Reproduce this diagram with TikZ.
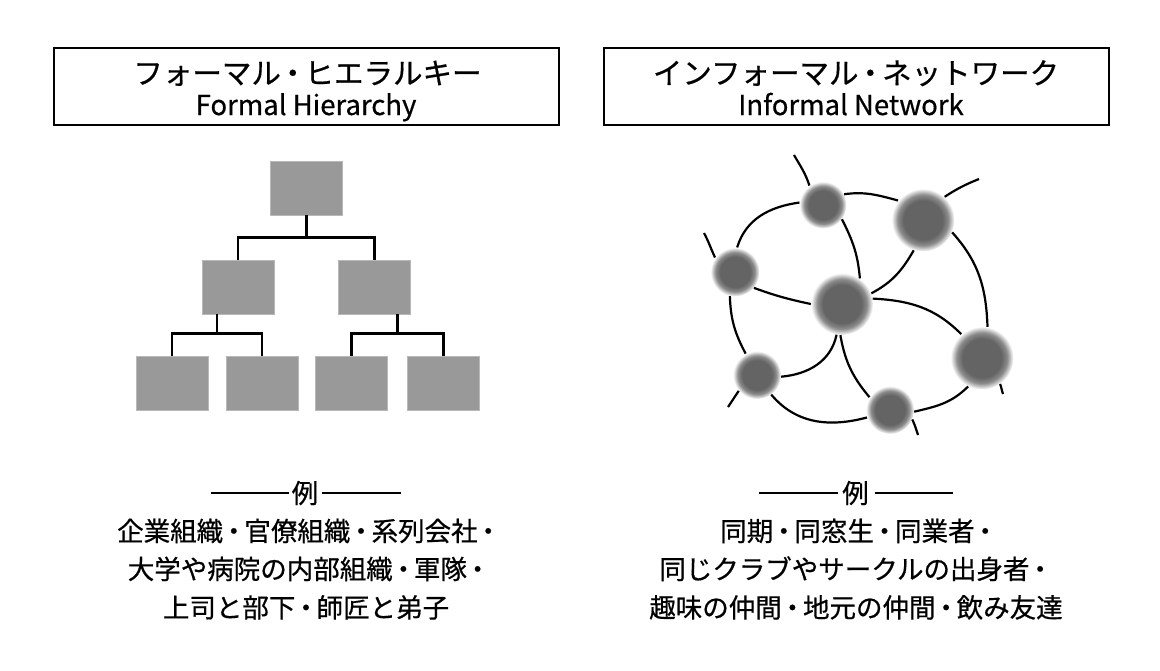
\documentclass[tikz,border=0pt]{standalone}
\usepackage{fontspec}
\setmainfont{Noto Sans CJK JP}[FakeBold=0.6]
\usetikzlibrary{calc}
\definecolor{boxgray}{HTML}{999999}
\definecolor{blobc}{HTML}{646464}
\pgfdeclareradialshading{blob}{\pgfpoint{0bp}{0bp}}{color(0bp)=(blobc); color(15.5bp)=(blobc); color(20bp)=(blobc!75!white); color(25bp)=(white); color(50bp)=(white)}
\newcommand\dt{\makebox[0.8em][c]{・}}
\begin{document}
\begin{tikzpicture}[x=1pt,y=1pt,
  hbox/.style={fill=boxgray, draw=boxgray!70!white, line width=0.6, minimum width=72, minimum height=54, inner sep=0pt},
  conn/.style={line width=2.5},
  tbox/.style={draw=black, line width=2, minimum width=505, minimum height=77, inner sep=0pt},
  jtitle/.style={inner sep=0pt, font=\fontsize{29.5}{34}\selectfont},
  etitle/.style={inner sep=0pt, font=\fontsize{27.5}{32}\selectfont},
  body/.style={inner sep=0pt, font=\fontsize{26.5}{32}\selectfont},
  exdash/.style={line width=2},
  blobnode/.style={circle, inner sep=0pt, minimum size=#1, shade, shading=blob},
  link/.style={line width=2.2}]
\useasboundingbox (0,0) rectangle (1160,-670);

% ---------- headers ----------
\node[tbox] (L) at (306.5,-86.5) {};
\node[jtitle, anchor=base] (Ljp) at (307.5,-84) {フォーマル\dt ヒエラルキー};
\node[etitle, anchor=base] (Len) at (306,-115) {Formal Hierarchy};
\node[tbox] (R) at (856,-86.5) {};
\node[jtitle, anchor=base] (Rjp) at (856,-84) {インフォーマル\dt ネットワーク};
\node[etitle, anchor=base] (Ren) at (851,-115) {Informal Network};

% ---------- hierarchy ----------
\node[hbox] (T) at (306.5,-188) {};
\node[hbox] (ML) at (238,-287) {};
\node[hbox] (MR) at (374.5,-287) {};
\node[hbox] (B1) at (172,-383) {};
\node[hbox] (B2) at (262,-383) {};
\node[hbox] (B3) at (351.5,-383) {};
\node[hbox] (B4) at (443.5,-383) {};
\coordinate (jT) at ($(T.south)+(0,-22)$);
\draw[conn] (T.south) -- (jT) -| (ML.north);
\draw[conn] (jT) -| (MR.north);
\coordinate (jL) at ($(B1.north)!0.5!(B2.north)+(0,22)$);
\draw[conn] (jL |- ML.south) -- (jL) -| (B1.north);
\draw[conn] (jL) -| (B2.north);
\coordinate (jR) at ($(B3.north)!0.5!(B4.north)+(0,22)$);
\draw[conn] (jR |- MR.south) -- (jR) -| (B3.north);
\draw[conn] (jR) -| (B4.north);

% ---------- network ----------
\node[blobnode=47] (A) at (823,-205) {};
\node[blobnode=63] (B) at (923,-220) {};
\node[blobnode=49] (C) at (735,-272) {};
\node[blobnode=62] (D) at (842,-304) {};
\node[blobnode=63] (E) at (982,-358) {};
\node[blobnode=48] (F) at (757,-375) {};
\node[blobnode=48] (G) at (890,-410) {};
\coordinate (fA) at (794,-155);
\coordinate (fB) at (979,-179);
\coordinate (fC) at (704,-233);
\coordinate (fE) at (1003,-394);
\coordinate (fF) at (728,-407);
\coordinate (fG) at (918,-435);

\draw[link] (A.125) to[out=108,in=-60] (fA);
\draw[link] (A.27) to[out=8,in=165] (B.142);
\draw[link] (A.174) to[out=188,in=73] (C.85);
\draw[link] (A.-37) to[out=-63,in=95] (D.55);
\draw[link] (B.47) to[out=33,in=202] (fB);
\draw[link] (B.-107) to[out=-120,in=28] (D.20);
\draw[link] (B.-23) to[out=-48,in=92] (E.80);
\draw[link] (C.144) to[out=115,in=-62] (fC);
\draw[link] (C.-40) to[out=-20,in=168] (D.180);
\draw[link] (C.-102) to[out=-88,in=118] (F.118);
\draw[link] (D.10) to[out=-3,in=135] (E.131);
\draw[link] (D.-100) to[out=-102,in=5] (F.-4);
\draw[link] (D.-93) to[out=-80,in=130] (G.148);
\draw[link] (E.-55) to[out=-72,in=108] (fE);
\draw[link] (E.-116) to[out=-135,in=13] (G.-4);
\draw[link] (F.-139) to[out=-125,in=55] (fF);
\draw[link] (F.-54) to[out=-50,in=-165] (G.-162);
\draw[link] (G.-23) to[out=-65,in=108] (fG);

% ---------- examples ----------
\node[body, anchor=base] (Lx) at (305,-503) {例};
\draw[exdash] ($(Lx.west)+(-3,0)$) -- ++(-78,0);
\draw[exdash] ($(Lx.east)+(4,0)$) -- ++(79,0);
\node[body, anchor=base] (L1) at (308,-541) {企業組織\dt 官僚組織\dt 系列会社\dt};
\node[body, anchor=base] (L2) at (308,-579) {大学や病院の内部組織\dt 軍隊\dt};
\node[body, anchor=base] (L3) at (306,-617.5) {上司と部下\dt 師匠と弟子};

\node[body, anchor=base] (Rx) at (855.5,-503) {例};
\draw[exdash] ($(Rx.west)+(-4,0)$) -- ++(-79,0);
\draw[exdash] ($(Rx.east)+(6,0)$) -- ++(78,0);
\node[body, anchor=base] (R1) at (858,-541) {同期\dt 同窓生\dt 同業者\dt};
\node[body, anchor=base] (R2) at (855,-579) {同じクラブやサークルの出身者\dt};
\node[body, anchor=base] (R3) at (856,-617.5) {趣味の仲間\dt 地元の仲間\dt 飲み友達};
\end{tikzpicture}
\end{document}
